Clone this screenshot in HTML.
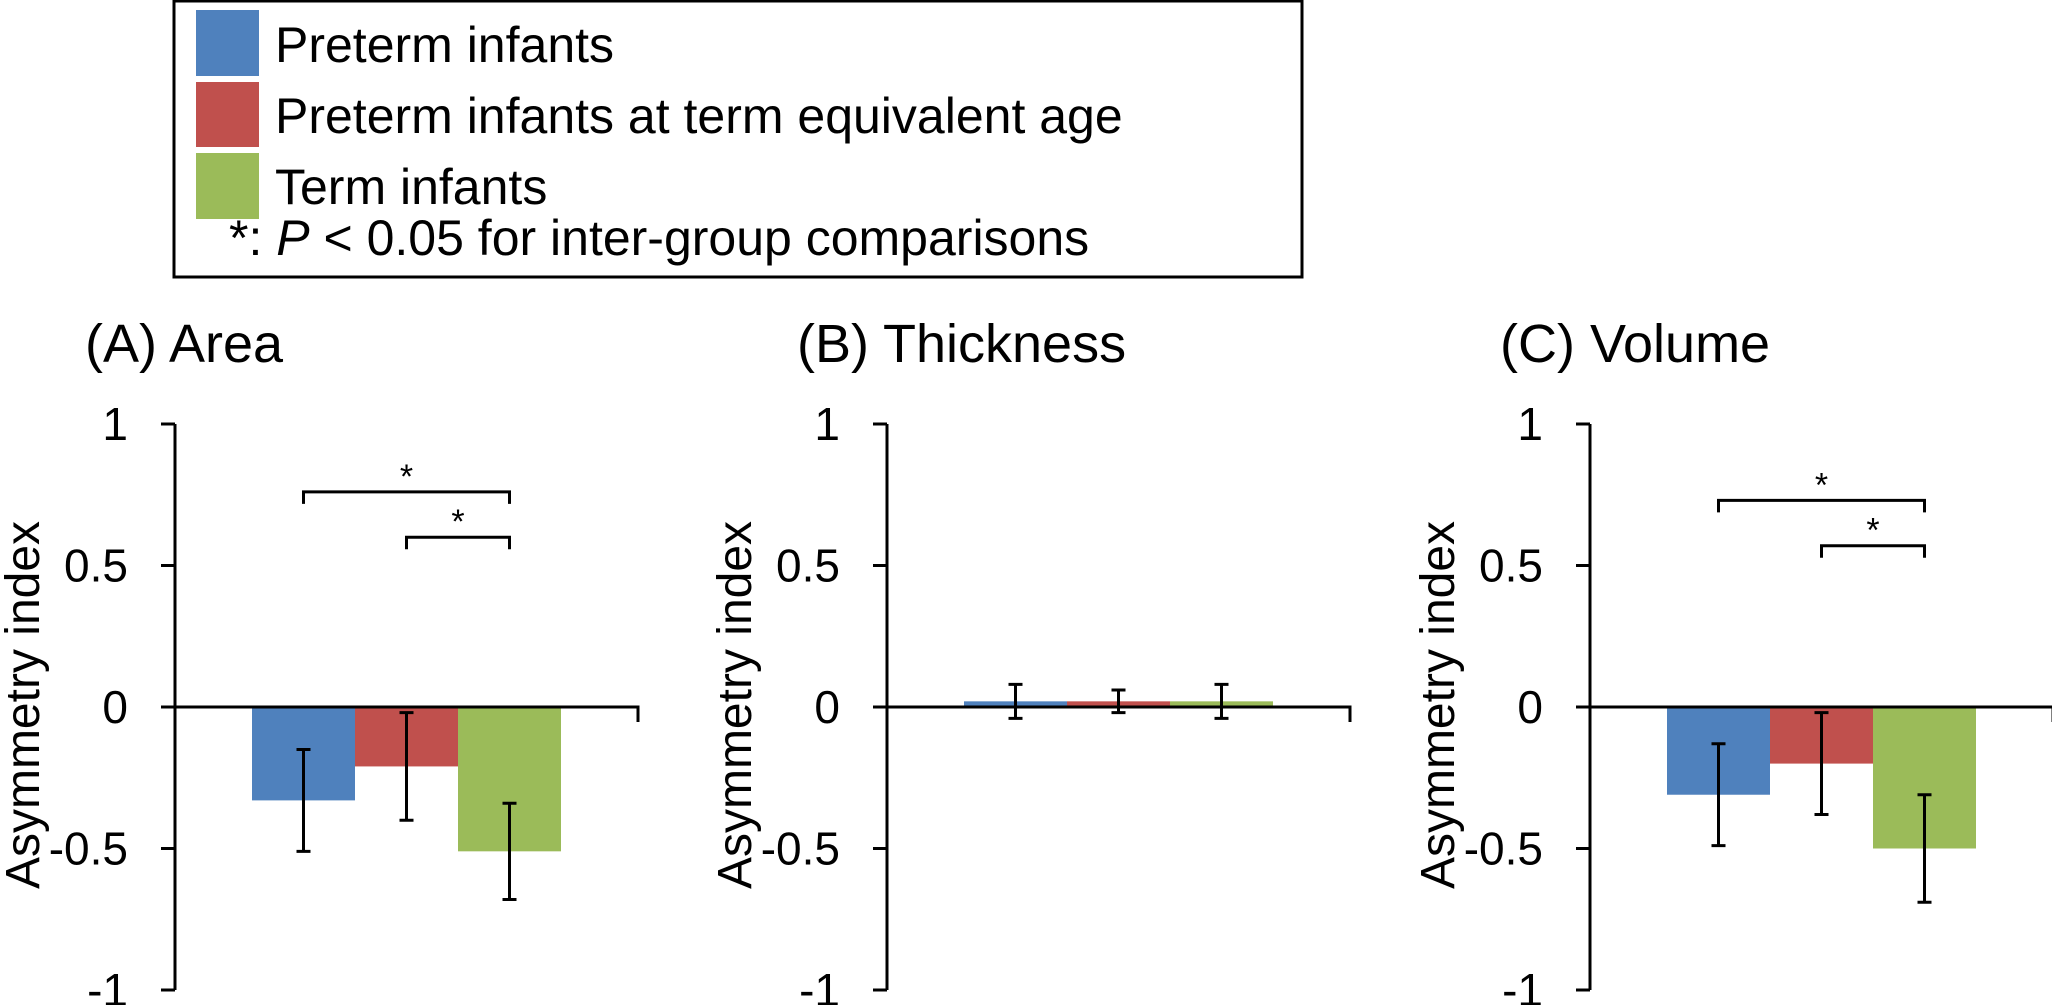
<!DOCTYPE html>
<html><head><meta charset="utf-8"><style>
html,body{margin:0;padding:0;background:#fff;}
svg{display:block;font-family:"Liberation Sans",Arial,sans-serif;}
</style></head><body>
<svg id="c" width="2052" height="1005" viewBox="0 0 2052 1005" xmlns="http://www.w3.org/2000/svg">
<g>
<rect x="174" y="1" width="1128" height="276" fill="#fff" stroke="#000" stroke-width="3"/>
<rect x="196" y="10" width="63" height="66" fill="#4f81bd"/>
<text x="275" y="62" font-size="50">Preterm infants</text>
<rect x="196" y="82" width="63" height="65" fill="#c0504d"/>
<text x="275" y="133" font-size="50">Preterm infants at term equivalent age</text>
<rect x="196" y="153" width="63" height="66" fill="#9bbb59"/>
<text x="275" y="204" font-size="50">Term infants</text>
<text x="229" y="255" font-size="50">*: <tspan font-style="italic">P</tspan> &lt; 0.05 for inter-group comparisons</text>
</g>
</svg>
<script>
const panelTitles = ["(A) Area", "(B) Thickness", "(C) Volume"];
const groups = ["Preterm infants", "Preterm infants at term equivalent age", "Term infants"];
const means = [[-0.33, -0.21, -0.51], [0.02, 0.02, 0.02], [-0.31, -0.20, -0.50]];
const errLow = [[-0.51, -0.40, -0.68], [-0.04, -0.02, -0.04], [-0.49, -0.38, -0.69]];
const errHigh = [[-0.15, -0.02, -0.34], [0.08, 0.06, 0.08], [-0.13, -0.02, -0.31]];
const tickValues = [1, 0.5, 0, -0.5, -1];
const tickLabels = ["1", "0.5", "0", "-0.5", "-1"];
const sigPairs = [[[0, 2, 0.76], [1, 2, 0.60]], [], [[0, 2, 0.73], [1, 2, 0.57]]];

const colors = ["#4f81bd", "#c0504d", "#9bbb59"];
const axisX = [175, 887, 1590];
const svg = document.getElementById('c');
const NS = "http://www.w3.org/2000/svg";
const y0 = 707, unit = 283;
function yScale(v) { return y0 - v * unit; }
function xBar(p, i) { return axisX[p] + 77 + i * 103; }
function mk(tag, attrs, parent) {
  const e = document.createElementNS(NS, tag);
  for (const k in attrs) e.setAttribute(k, attrs[k]);
  (parent || svg).appendChild(e);
  return e;
}
for (let p = 0; p < 3; p++) {
  const g = mk('g', {});
  
  
  const ax = axisX[p];
  const t = mk('text', { x: ax - 90, y: 362, 'font-size': 54 }, g);
  t.textContent = panelTitles[p];
  
  
  const yt = mk('text', { x: 0, y: 0, 'font-size': 48, 'text-anchor': 'middle', transform: 'translate(' + (ax - 136) + ',' + 705 + ') rotate(-90)' }, g);
  yt.textContent = "Asymmetry index";
  
  
  for (let i = 0; i < 3; i++) {
    const v = means[p][i];
    const yv = yScale(v);
    const r = mk('rect', { x: xBar(p, i), y: Math.min(yv, y0), width: 103, height: Math.abs(yv - y0), fill: colors[i] }, g);
    
    
  }
  const yl = mk('line', { x1: ax, y1: yScale(1), x2: ax, y2: yScale(-1), stroke: '#000', 'stroke-width': 3 }, g);
  
  
  const xl = mk('path', { d: 'M' + (ax - 14) + ' ' + y0 + 'H' + (ax + 463) + 'V' + (y0 + 15), fill: 'none', stroke: '#000', 'stroke-width': 3 }, g);
  
  
  for (let k = 0; k < tickValues.length; k++) {
    const ty = yScale(tickValues[k]);
    mk('line', { x1: ax - 14, y1: ty, x2: ax, y2: ty, stroke: '#000', 'stroke-width': 3 }, g);
    const tl = mk('text', { x: ax - 47, y: ty + 16, 'font-size': 46, 'text-anchor': 'end' }, g);
    tl.textContent = tickLabels[k];
    
    
  }
  for (let i = 0; i < 3; i++) {
    const cx = xBar(p, i) + 51.5;
    const lo = yScale(errLow[p][i]), hi = yScale(errHigh[p][i]);
    const e = mk('path', { d: 'M' + cx + ' ' + hi + 'V' + lo + 'M' + (cx - 7) + ' ' + hi + 'H' + (cx + 7) + 'M' + (cx - 7) + ' ' + lo + 'H' + (cx + 7), stroke: '#000', 'stroke-width': 3, fill: 'none' }, g);
    
    
  }
  for (const s of sigPairs[p]) {
    const x1 = xBar(p, s[0]) + 51.5, x2 = xBar(p, s[1]) + 51.5, by = yScale(s[2]);
    const b = mk('path', { d: 'M' + x1 + ' ' + (by + 12) + 'V' + by + 'H' + x2 + 'V' + (by + 12), stroke: '#000', 'stroke-width': 3, fill: 'none' }, g);
    
    
    const st = mk('text', { x: (x1 + x2) / 2, y: by - 4, 'font-size': 34, 'text-anchor': 'middle' }, g);
    st.textContent = "*";
    
    
  }
}
</script>
</body></html>
